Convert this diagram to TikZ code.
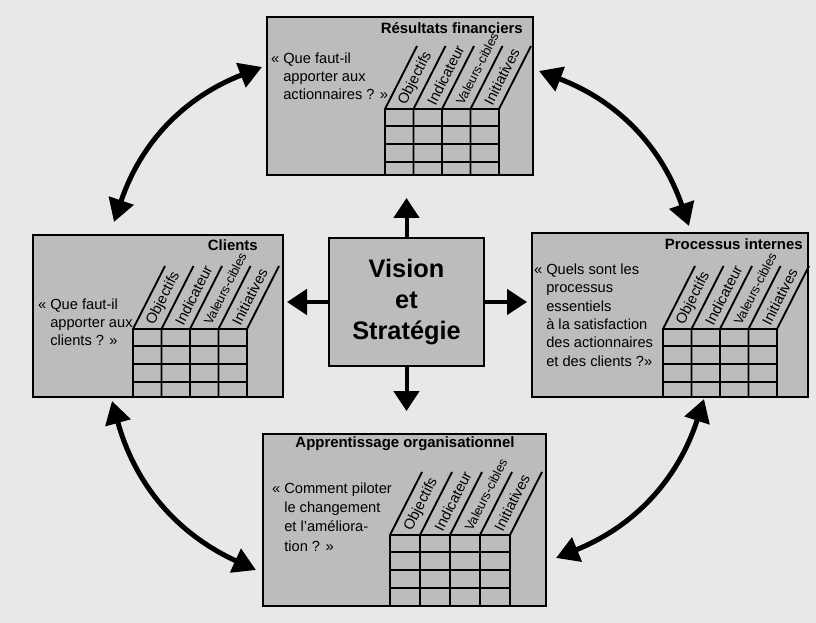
\documentclass[tikz,border=0pt]{standalone}
\usepackage{fontspec}
\setmainfont{Liberation Sans}
\usetikzlibrary{arrows.meta,calc}

\definecolor{paper}{RGB}{232,232,230}
\definecolor{panelgray}{RGB}{188,188,186}

\tikzset{
  panel/.style={draw=black, line width=1.5pt, fill=panelgray, inner sep=0pt},
  visbox/.style={draw=black, line width=2.2pt, fill=panelgray, align=center,
    minimum width=116.25pt, minimum height=96pt, inner sep=0pt,
    font=\fontsize{19}{23}\selectfont\bfseries},
  gridline/.style={draw=black, line width=1.4pt},
  paneltitle/.style={font=\fontsize{11.2}{13}\selectfont\bfseries, inner sep=0pt},
  question/.style={align=left, inner sep=0pt, font=\fontsize{11}{13.5}\selectfont},
  colhead/.style={rotate=63, anchor=west, inner sep=0pt, font=\fontsize{11}{13}\selectfont},
  colheadsmall/.style={colhead, font=\fontsize{9.5}{11}\selectfont},
  spoke/.style={line width=3pt, -{Triangle[length=15pt,width=19pt]}},
  link/.style={line width=3.75pt,
    {Triangle[length=17pt,width=19pt]}-{Triangle[length=17pt,width=19pt]}},
}

% Scorecard table: #1 name prefix, #2 left x, #3 top y, #4 bottom y, #5 column width
\newcommand\scoregrid[5]{%
  \foreach \k in {0,...,4}
    \draw[gridline] ({#2+#5*\k},#4) -- ({#2+#5*\k},#3) -- ++(32,-63);
  \foreach \rowy in {0,17,35,53}
    \draw[gridline] (#2,{#3+\rowy}) -- ({#2+4*#5},{#3+\rowy});
  \node[colhead]      (#1-obj) at ({#2+0.5*#5+3},{#3-5}) {Objectifs};
  \node[colhead]      (#1-ind) at ({#2+1.5*#5+3},{#3-5}) {Indicateur};
  \node[colheadsmall] (#1-val) at ({#2+2.5*#5+3},{#3-5}) {Valeurs-cibles};
  \node[colhead]      (#1-ini) at ({#2+3.5*#5+3},{#3-5}) {Initiatives};
}

\begin{document}
\begin{tikzpicture}[x=0.75pt, y=-0.75pt]
  \useasboundingbox (0,0) rectangle (816,623);
  \fill[paper] (0,0) rectangle (816,623);

  % the four perspectives
  \node[panel, minimum width=199.5pt, minimum height=118.5pt] (fin) at (400,96) {};
  \node[panel, minimum width=187.5pt, minimum height=121.5pt] (cli) at (158,316) {};
  \node[panel, minimum width=207pt,   minimum height=123pt]   (pro) at (670,315) {};
  \node[panel, minimum width=212.25pt, minimum height=129pt]  (app) at (404.5,520) {};

  % centre
  \node[visbox] (vis) at (406.5,302) {Vision\\et\\Stratégie};

  % titles
  \node[paneltitle, anchor=east] (fin-t) at (523,28) {Résultats financiers};
  \node[paneltitle, anchor=east] (cli-t) at (258,245) {Clients};
  \node[paneltitle, anchor=east] (pro-t) at (803,244) {Processus internes};
  \node[paneltitle] (app-t) at (405,444) {Apprentissage organisationnel};

  % questions
  \node[question, anchor=west] (fin-q) at (283,76)
    {\llap{« }Que faut-il\\apporter aux\\actionnaires ? »};
  \node[question, anchor=west] (cli-q) at (50,322)
    {\llap{« }Que faut-il\\apporter aux\\clients ? »};
  \node[question, anchor=west, font=\fontsize{11}{13.8}\selectfont] (pro-q) at (546,315)
    {\llap{« }Quels sont les\\processus\\essentiels\\à la satisfaction\\des actionnaires\\et des clients ?»};
  \node[question, anchor=west, font=\fontsize{11}{14.5}\selectfont] (app-q) at (284,517)
    {\llap{« }Comment piloter\\le changement\\et l'améliora-\\tion ? »};

  % tables
  \scoregrid{fin}{385}{109}{175}{28.5}
  \scoregrid{cli}{133}{329}{397}{28.5}
  \scoregrid{pro}{663}{329}{397}{28.5}
  \scoregrid{app}{390}{535}{606}{30}

  % spokes from the centre
  \draw[spoke] (vis.north) -- ($(vis.north |- fin.south)+(0,22)$);
  \draw[spoke] (vis.south) -- ($(vis.south |- app.north)+(0,-22)$);
  \draw[spoke] (vis.west) -- ($(vis.west -| cli.east)+(3,0)$);
  \draw[spoke] (vis.east) -- ($(vis.east -| pro.west)+(-4,0)$);

  % curved links around the ring
  \draw[link] ($(cli.north west)+(82,-12)$) to[bend left=25] ($(fin.north west)+(-4,51)$);
  \draw[link] ($(fin.north east)+(5,55)$) to[bend left=25] ($(pro.north west)+(158,-6)$);
  \draw[link] ($(cli.south west)+(80,3)$) to[bend right=25] ($(app.west)+(-6,50)$);
  \draw[link] ($(pro.south west)+(173,1)$) to[bend left=25] ($(app.east)+(9,38)$);
\end{tikzpicture}
\end{document}
